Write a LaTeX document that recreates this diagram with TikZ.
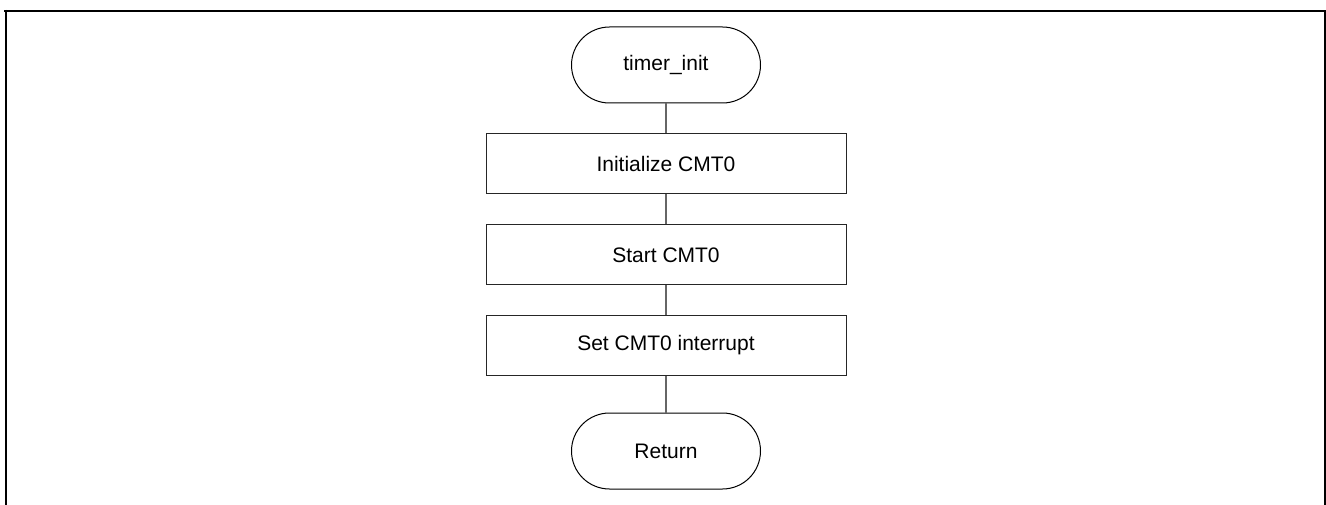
\documentclass[tikz,border=0pt]{standalone}
\usepackage{fontspec}
\setmainfont{Liberation Sans}
\begin{document}
\begin{tikzpicture}[x=1pt,y=-1pt,
  term/.style={draw=black,line width=1pt,rounded corners=38pt,minimum width=189pt,minimum height=76pt,inner sep=0pt,font=\fontsize{21}{24}\selectfont},
  proc/.style={draw=black!85,line width=1pt,minimum width=360pt,minimum height=60pt,inner sep=0pt,font=\fontsize{21}{24}\selectfont},
  link/.style={draw=black!60,line width=1.4pt},
  frame/.style={draw=black,line width=2pt}]
\useasboundingbox (0,0) rectangle (1326,505);
\draw[frame] (4,11) -- (1326,11);
\draw[frame] (6,10) -- (6,505);
\draw[draw=black,line width=1.2pt] (1325,11) -- (1325,505);
\node[term] (s) at (666,65) {timer\_init};
\node[proc] (a) at (666,164) {Initialize CMT0};
\node[proc] (b) at (666,255) {Start CMT0};
\node[proc] (c) at (666,345.5) {Set CMT0 interrupt};
\node[term] (r) at (666,451) {Return};
\draw[link] (s) -- (a);
\draw[link] (a) -- (b);
\draw[link] (b) -- (c);
\draw[link] (c) -- (r);
\end{tikzpicture}
\end{document}
